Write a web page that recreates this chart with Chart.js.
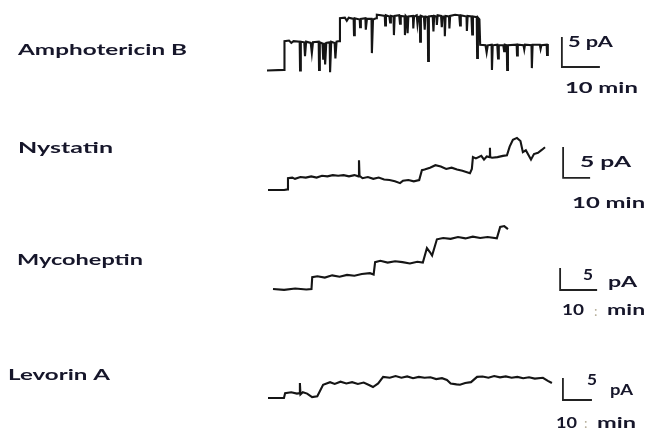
<!DOCTYPE html>
<html>
<head>
<meta charset="utf-8">
<script src="https://cdn.jsdelivr.net/npm/chart.js@4.4.1/dist/chart.umd.min.js"></script>
<style>
  html, body { margin: 0; padding: 0; background: #fff; }
  #wrap { width: 649px; height: 432px; }
</style>
</head>
<body>
<div id="wrap"><canvas id="c" width="649" height="432"></canvas></div>
<script>
// Single-channel current recordings: time (min) vs current (pA)
const traceNames = ['Amphotericin B', 'Nystatin', 'Mycoheptin', 'Levorin A'];

const amphoTime = [0, 4.5, 4.6, 5.8, 6.4, 7.0, 8.6, 8.7, 8.9, 9.8, 10.0, 10.3, 11.5, 11.8, 12.1, 13.6, 13.7, 13.9,
  14.6, 14.8, 15.1, 15.3, 15.6, 16.5, 16.6, 16.9, 17.8, 18.0, 18.3, 19.0, 19.2, 20.5, 21.0, 21.5, 22.8, 22.9, 23.1,
  24.4, 24.5, 24.7, 25.9, 26.0, 26.3, 27.5, 27.6, 27.9, 28.7, 28.9, 30.0, 31.0, 31.1, 31.3, 32.2, 32.4, 32.6, 33.3,
  33.4, 33.6, 34.8, 35.0, 35.2, 36.2, 36.3, 36.5, 36.8, 37.0, 37.2, 38.4, 38.5, 38.7, 39.4, 39.6, 39.8, 40.2, 40.3,
  40.5, 41.3, 41.5, 41.7, 42.3, 42.4, 42.6, 43.6, 43.8, 44.0, 44.6, 44.7, 44.9, 45.8, 46.0, 46.2, 46.7, 46.8, 47.0,
  47.9, 48.0, 48.2, 49.5, 50.6, 50.8, 51.0, 52.5, 52.6, 52.8, 53.8, 54.0, 54.2, 55.2, 55.3, 55.5, 55.9, 56.1, 57.5,
  57.8, 58.1, 59.1, 59.2, 59.4, 60.6, 60.8, 61.0, 62.2, 62.4, 62.6, 63.1, 63.2, 63.4, 65.7, 65.8, 66.0, 67.5, 67.7,
  67.9, 69.6, 69.7, 69.9, 71.8, 72.0, 72.2, 73.6, 73.7, 73.9];
const amphoCurrent = [0, 0.1, 4.9, 5.0, 4.6, 4.9, 4.8, 0.0, 4.8, 4.7, 2.4, 4.8, 4.6, 2.9, 4.7, 4.8, 0.1, 4.7,
  4.5, 1.8, 4.6, 1.0, 4.6, 4.7, -0.3, 4.8, 4.6, 2.0, 4.8, 4.9, 8.7, 8.8, 8.3, 8.8, 8.6, 5.9, 8.7,
  8.5, 7.2, 8.6, 8.7, 6.8, 8.6, 8.6, 2.9, 8.5, 8.7, 9.3, 9.2, 9.1, 7.5, 9.2, 9.0, 8.0, 9.1, 9.0,
  5.9, 9.1, 9.2, 7.8, 9.1, 9.0, 5.9, 9.1, 8.9, 6.2, 9.0, 9.1, 7.0, 9.0, 9.2, 7.8, 8.9, 9.0, 4.8,
  9.1, 8.9, 6.8, 9.0, 8.9, 1.6, 9.0, 9.1, 6.5, 9.1, 9.0, 7.6, 9.2, 9.1, 7.2, 9.0, 9.0, 5.7, 9.1,
  9.0, 7.0, 9.1, 9.3, 9.2, 7.5, 9.2, 9.0, 6.6, 9.1, 9.0, 6.0, 9.0, 8.9, 2.1, 8.8, 8.5, 4.3, 4.2,
  3.0, 4.2, 4.3, 0.1, 4.2, 4.3, 2.0, 4.2, 4.2, 3.2, 4.3, 4.2, 0.1, 4.2, 4.3, 2.5, 4.3, 4.2, 3.5,
  4.3, 4.2, 0.4, 4.3, 4.3, 3.6, 4.2, 4.3, 2.6, 4.4];

const nystatinTime = [0, 6, 7.2, 7.4, 9, 10, 12, 14, 16, 18, 20, 22, 24, 26, 28, 30, 32, 33.5, 33.7, 33.9,
  35, 37, 39, 41, 43, 45, 47, 48.9, 50, 52, 54, 56, 57, 58, 60, 62, 64, 66, 68, 70, 72, 74.8, 75.5, 75.9,
  77, 79, 80, 81, 82.1, 82.2, 82.3, 83, 85, 87, 88.5, 89.5, 90.7, 92.2, 93.5, 94.4, 95.5, 97.4, 98.5, 100, 101.5, 102.6];
const nystatinCurrent = [0, 0, 0.1, 1.9, 2.0, 1.8, 2.1, 2.0, 2.2, 2.0, 2.3, 2.2, 2.4, 2.3, 2.4, 2.2, 2.4, 2.2, 4.8, 2.3,
  1.9, 2.1, 1.8, 2.0, 1.7, 1.6, 1.4, 1.1, 1.5, 1.6, 1.4, 1.6, 3.2, 3.3, 3.6, 4.0, 3.8, 3.4, 3.6, 3.3, 3.1, 2.7, 3.4, 5.3,
  5.1, 5.5, 4.9, 5.4, 5.3, 6.8, 5.3, 5.2, 5.3, 5.5, 5.6, 7.0, 8.1, 8.4, 7.9, 6.1, 6.4, 4.9, 5.8, 6.0, 6.5, 6.9];

const mycoheptinTime = [0, 3, 6, 9, 10.4, 10.6, 12, 14, 16, 18, 20, 22, 24, 26.2, 27.2, 27.6, 29, 31, 33, 35, 37,
  39, 40.5, 41.6, 42.4, 43, 44.3, 46, 48, 50, 52, 54, 56, 58, 60.5, 61.4, 62.5, 63.5];
const mycoheptinCurrent = [0, -0.2, 0.1, -0.1, 0, 2.7, 2.9, 2.6, 3.1, 2.8, 3.2, 3.0, 3.4, 3.6, 3.3, 6.1, 6.4, 6.0, 6.3, 6.1, 5.8,
  6.2, 6.0, 9.3, 8.4, 7.6, 11.3, 11.6, 11.4, 11.8, 11.5, 11.9, 11.6, 11.8, 11.5, 14.1, 14.3, 13.6];

const levorinTime = [0, 5.5, 5.9, 8, 10, 10.8, 11, 11.2, 12, 13.5, 15.2, 17, 19, 21.4, 23, 25, 27, 29, 31, 33, 35,
  36.2, 38, 39.7, 42, 44, 46, 48, 50, 52, 54, 56, 58, 60, 61.7, 63, 65, 66.2, 68, 70, 72.1, 74, 76, 78, 80, 82,
  84, 86, 88, 90, 92, 94.8, 96.5, 97.9];
const levorinCurrent = [0, 0, 1.1, 1.3, 1.0, 1.1, 3.4, 0.8, 1.3, 1.0, 0.2, 0.4, 3.0, 3.6, 3.2, 3.7, 3.3, 3.6, 3.2, 3.5, 2.9,
  2.5, 3.3, 4.8, 4.6, 5.0, 4.6, 4.9, 4.5, 4.8, 4.6, 4.7, 4.3, 4.5, 4.1, 3.3, 3.1, 3.0, 3.4, 3.6, 4.8, 4.9, 4.6, 5.0, 4.7, 4.9,
  4.6, 4.8, 4.5, 4.7, 4.4, 4.6, 3.9, 3.4];

// Scale bar sizes
const scaleBarCurrent = 5;   // pA
const scaleBarTime = 10;     // min
const scaleBarCurrentLabel = '5 pA';
const scaleBarTimeLabel = '10 min';

// Placement of each recording on the page (pixels) and its gain.
// Label pieces are given as [dx, dy, width] relative to the scale-bar corner.
const panels = [
  { time: amphoTime, current: amphoCurrent, x0: 267, pxPerMin: 3.8, y0: 70.5, pxPerPA: 6.0,
    barAt: [77.6, 0.58], name: [18, 50, 169],
    pA: { whole: [6, -25, 45] }, min: { whole: [3, 21, 73] } },
  { time: nystatinTime, current: nystatinCurrent, x0: 268, pxPerMin: 2.7, y0: 190, pxPerPA: 6.2,
    barAt: [109.3, 1.94], name: [18, 148, 95],
    pA: { whole: [17, -16, 51] }, min: { whole: [9, 25, 73] } },
  { time: mycoheptinTime, current: mycoheptinCurrent, x0: 273, pxPerMin: 3.7, y0: 289, pxPerPA: 4.4,
    barAt: [77.6, -0.23], name: [17, 260, 126],
    pA: { first: [23, -15, 10], second: [48, -8, 29] },
    min: { first: [2, 20, 22], colon: [34, 21], second: [47, 20, 38] } },
  { time: levorinTime, current: levorinCurrent, x0: 268, pxPerMin: 2.9, y0: 398, pxPerPA: 4.4,
    barAt: [101.7, -0.45], name: [8, 375, 102],
    pA: { first: [24, -20, 10], second: [47, -10, 23] },
    min: { first: [-7, 23, 21], colon: [21, 24], second: [34, 23, 39] } }
];

const W = 649, H = 432;
const ink = '#151515';
const datasets = [];
const scales = {};

panels.forEach((p, i) => {
  scales['x' + i] = { type: 'linear', display: false, min: -p.x0 / p.pxPerMin, max: (W - p.x0) / p.pxPerMin };
  scales['y' + i] = { type: 'linear', display: false, min: -(H - p.y0) / p.pxPerPA, max: p.y0 / p.pxPerPA };
  datasets.push({
    label: traceNames[i],
    data: p.time.map((t, j) => ({ x: t, y: p.current[j] })),
    xAxisID: 'x' + i, yAxisID: 'y' + i,
    borderColor: ink, borderWidth: 2.1, pointRadius: 0, tension: 0, fill: false,
    borderJoinStyle: 'miter'
  });
  const [bt, bv] = p.barAt;
  datasets.push({
    label: traceNames[i] + ' scale',
    data: [{ x: bt, y: bv + scaleBarCurrent }, { x: bt, y: bv }, { x: bt + scaleBarTime, y: bv }],
    xAxisID: 'x' + i, yAxisID: 'y' + i,
    borderColor: '#222', borderWidth: 1.8, pointRadius: 0, tension: 0, fill: false,
    borderJoinStyle: 'miter'
  });
});

function stretchedText(ctx, text, x, yMid, width, font, color) {
  ctx.save();
  ctx.font = font;
  ctx.fillStyle = color;
  ctx.textBaseline = 'middle';
  ctx.textAlign = 'left';
  const w = ctx.measureText(text).width;
  ctx.translate(x, yMid);
  ctx.scale(width ? width / w : 1, 1);
  ctx.fillText(text, 0, 0);
  ctx.restore();
}

const labelsPlugin = {
  id: 'panelLabels',
  afterDraw(chart) {
    const ctx = chart.ctx;
    const nameFont = 'bold 16px Lato, "Open Sans", sans-serif';
    const barFont = 'bold 15px Lato, "Open Sans", sans-serif';
    const textColor = '#16162a';
    const piece = (txt, bx, by, spec) =>
      stretchedText(ctx, txt, bx + spec[0], by + spec[1], spec[2], barFont, textColor);

    panels.forEach((p, i) => {
      const [nx, ny, nw] = p.name;
      stretchedText(ctx, traceNames[i], nx, ny, nw, nameFont, textColor);
      const bx = chart.scales['x' + i].getPixelForValue(p.barAt[0]);
      const by = chart.scales['y' + i].getPixelForValue(p.barAt[1]);

      const pAParts = scaleBarCurrentLabel.split(' ');
      if (p.pA.whole) piece(scaleBarCurrentLabel, bx, by, p.pA.whole);
      else { piece(pAParts[0], bx, by, p.pA.first); piece(pAParts[1], bx, by, p.pA.second); }

      const minParts = scaleBarTimeLabel.split(' ');
      if (p.min.whole) piece(scaleBarTimeLabel, bx, by, p.min.whole);
      else {
        piece(minParts[0], bx, by, p.min.first);
        stretchedText(ctx, ':', bx + p.min.colon[0], by + p.min.colon[1], 0, '14px Lato, sans-serif', '#b5ad98');
        piece(minParts[1], bx, by, p.min.second);
      }
    });
  }
};

new Chart(document.getElementById('c'), {
  type: 'line',
  data: { datasets },
  options: {
    responsive: false,
    animation: false,
    layout: { padding: 0 },
    scales,
    plugins: { legend: { display: false }, tooltip: { enabled: false } }
  },
  plugins: [labelsPlugin]
});
</script>
</body>
</html>
